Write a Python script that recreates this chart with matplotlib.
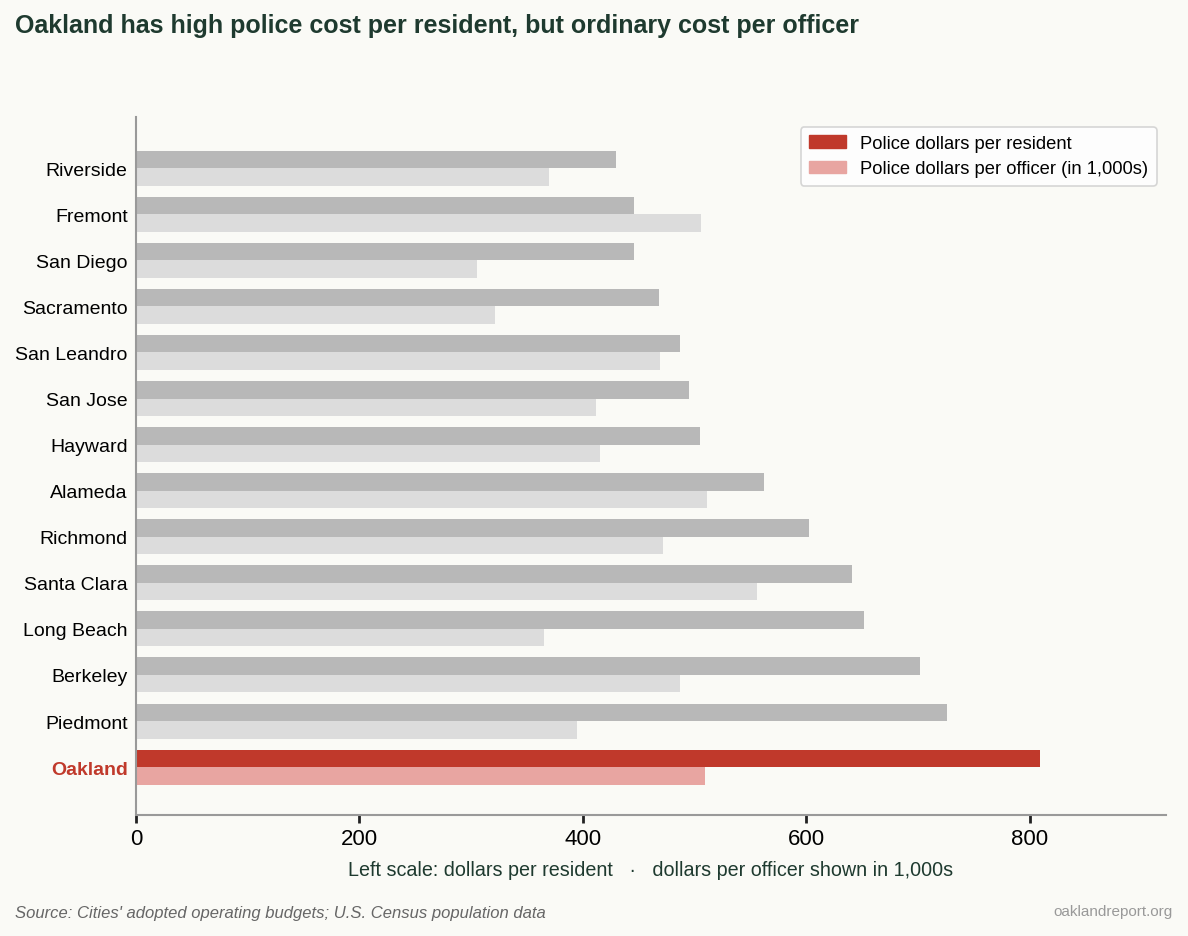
import numpy as np
import matplotlib
matplotlib.use("Agg")
import matplotlib.pyplot as plt
from matplotlib.patches import Patch

plt.rcParams['font.family'] = ['Liberation Sans', 'DejaVu Sans']

# data
cities = ["Riverside", "Fremont", "San Diego", "Sacramento", "San Leandro", "San Jose",
          "Hayward", "Alameda", "Richmond", "Santa Clara", "Long Beach", "Berkeley",
          "Piedmont", "Oakland"]
per_resident = [430, 446, 446, 468, 487, 495, 505, 562, 602, 641, 652, 702, 726, 809]
per_officer = [370, 506, 305, 321, 469, 412, 415, 511, 472, 556, 365, 487, 395, 509]

BG = "#fafaf6"
TITLE = "#1e3a2f"
RED = "#c0392b"
PINK = "#e8a5a1"
GRAY_D = "#b8b8b8"
GRAY_L = "#dcdcdc"

fig = plt.figure(figsize=(11.88, 9.37), dpi=100, facecolor=BG)
ax = fig.add_axes([0.1145, 0.1291, 0.867, 0.7449], facecolor=BG)

y = np.arange(len(cities))
h = 0.38
c1 = [RED if c == "Oakland" else GRAY_D for c in cities]
c2 = [PINK if c == "Oakland" else GRAY_L for c in cities]
ax.barh(y - h / 2, per_resident, height=h, color=c1)
ax.barh(y + h / 2, per_officer, height=h, color=c2)

ax.set_ylim(len(cities) - 1 + 1.04, -1.11)
ax.set_xlim(0, 922)
ax.set_yticks(y)
ax.set_yticklabels(cities, fontsize=14)
for lbl in ax.get_yticklabels():
    if lbl.get_text() == "Oakland":
        lbl.set_color(RED)
        lbl.set_fontweight("bold")
ax.tick_params(axis="y", length=0, pad=6)
ax.set_xticks([0, 200, 400, 600, 800])
ax.tick_params(axis="x", labelsize=16, length=6, width=2, color="#222222", direction="out")

for s in ["top", "right"]:
    ax.spines[s].set_visible(False)
for s in ["left", "bottom"]:
    ax.spines[s].set_color("#999999")
    ax.spines[s].set_linewidth(1.5)

ax.set_xlabel("Left scale: dollars per resident   ·   dollars per officer shown in 1,000s",
              fontsize=14.2, color=TITLE, labelpad=8)

handles = [Patch(color=RED, label="Police dollars per resident"),
           Patch(color=PINK, label="Police dollars per officer (in 1,000s)")]
leg = ax.legend(handles=handles, loc="upper right", bbox_to_anchor=(0.991, 0.986),
                borderaxespad=0, fontsize=13.2, frameon=True, facecolor="white",
                edgecolor="#cccccc", handlelength=2.0, handleheight=0.7,
                handletextpad=0.8, borderpad=0.45, labelspacing=0.45)
leg.get_frame().set_linewidth(1.2)

fig.text(0.0126, 0.972, "Oakland has high police cost per resident, but ordinary cost per officer",
         fontsize=18, fontweight="bold", color=TITLE, va="center")
fig.text(0.0126, 0.025, "Source: Cities' adopted operating budgets; U.S. Census population data",
         fontsize=12, style="italic", color="#666666", va="center")
fig.text(0.987, 0.027, "oaklandreport.org", fontsize=11, color="#999999", ha="right", va="center")

fig.savefig("out.png", dpi=100, facecolor=BG)
